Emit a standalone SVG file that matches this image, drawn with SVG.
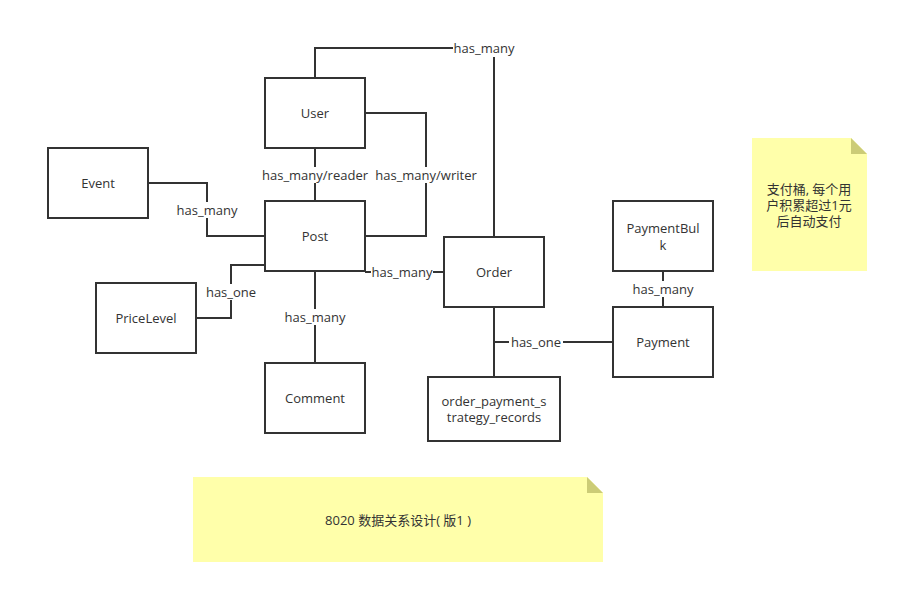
<svg xmlns="http://www.w3.org/2000/svg" width="899" height="594" viewBox="0 0 899 594">
<style>
.box{fill:#fff;stroke:#333;stroke-width:2}
.t{font-family:"Open Sans","Noto Sans","Noto Sans CJK SC",sans-serif;font-size:13px;fill:#333;text-anchor:middle;dominant-baseline:central}
.bg{fill:#fff}
.c{fill:none;stroke:#333;stroke-width:2}
.note{fill:#ffffaa}
.fold{fill:#cccc77}
</style>
<rect width="899" height="594" fill="#fff"/>
<g id="connectors">
<polyline class="c" points="315,78 315,48 494,48 494,237"/>
<polyline class="c" points="365,113 426,113 426,236 365,236"/>
<polyline class="c" points="315,148 315,201"/>
<polyline class="c" points="148,183 207,183 207,236 265,236"/>
<polyline class="c" points="196,318 231,318 231,265 265,265"/>
<polyline class="c" points="315,271 315,363"/>
<polyline class="c" points="365,272 444,272"/>
<polyline class="c" points="494,307 494,377"/>
<polyline class="c" points="494,342 613,342"/>
<polyline class="c" points="663,271 663,307"/>
<rect class="bg" x="453" y="40" width="62" height="17"/>
<rect class="bg" x="261" y="167" width="108" height="16"/>
<rect class="bg" x="373" y="167" width="106" height="16"/>
<rect class="bg" x="176" y="202" width="62" height="16"/>
<rect class="bg" x="204" y="284" width="54" height="16"/>
<rect class="bg" x="284" y="309" width="62" height="16"/>
<rect class="bg" x="371" y="264" width="62" height="16"/>
<rect class="bg" x="509" y="334" width="54" height="16"/>
<rect class="bg" x="632" y="281" width="62" height="16"/>
<text class="t" x="484" y="48">has_many</text>
<text class="t" x="315" y="175">has_many/reader</text>
<text class="t" x="426" y="175">has_many/writer</text>
<text class="t" x="207" y="210">has_many</text>
<text class="t" x="231" y="292">has_one</text>
<text class="t" x="315" y="317">has_many</text>
<text class="t" x="402" y="272">has_many</text>
<text class="t" x="536" y="342">has_one</text>
<text class="t" x="663" y="289">has_many</text>
</g>
<g id="user"><rect class="box" x="265" y="78" width="100" height="70"/><text class="t" x="315" y="113">User</text></g>
<g id="event"><rect class="box" x="48" y="148" width="100" height="70"/><text class="t" x="98" y="183">Event</text></g>
<g id="post"><rect class="box" x="265" y="201" width="100" height="70"/><text class="t" x="315" y="236">Post</text></g>
<g id="pricelevel"><rect class="box" x="96" y="283" width="100" height="70"/><text class="t" x="146" y="318">PriceLevel</text></g>
<g id="comment"><rect class="box" x="265" y="363" width="100" height="70"/><text class="t" x="315" y="398">Comment</text></g>
<g id="order"><rect class="box" x="444" y="237" width="100" height="70"/><text class="t" x="494" y="272">Order</text></g>
<g id="order_payment"><rect class="box" x="428" y="377" width="132" height="64"/><text class="t" x="494" y="401"><tspan x="494" y="401">order_payment_s</tspan><tspan x="494" y="417">trategy_records</tspan></text></g>
<g id="paymentbulk"><rect class="box" x="613" y="201" width="100" height="70"/><text class="t" x="663" y="228"><tspan x="663" y="228">PaymentBul</tspan><tspan x="663" y="245">k</tspan></text></g>
<g id="payment"><rect class="box" x="613" y="307" width="100" height="70"/><text class="t" x="663" y="342">Payment</text></g>
<g id="note1">
<polygon class="note" points="752,138 851,138 867,154 867,271 752,271"/>
<polygon class="fold" points="851,138 867,154 851,154"/>
<text class="t" x="809" y="189"><tspan x="809" y="189">支付桶, 每个用</tspan><tspan x="809" y="205">户积累超过1元</tspan><tspan x="809" y="221">后自动支付</tspan></text>
</g>
<g id="note2">
<polygon class="note" points="193,477 587,477 603,493 603,562 193,562"/>
<polygon class="fold" points="587,477 603,493 587,493"/>
<text class="t" x="398" y="520">8020 数据关系设计( 版1 )</text>
</g>
</svg>
